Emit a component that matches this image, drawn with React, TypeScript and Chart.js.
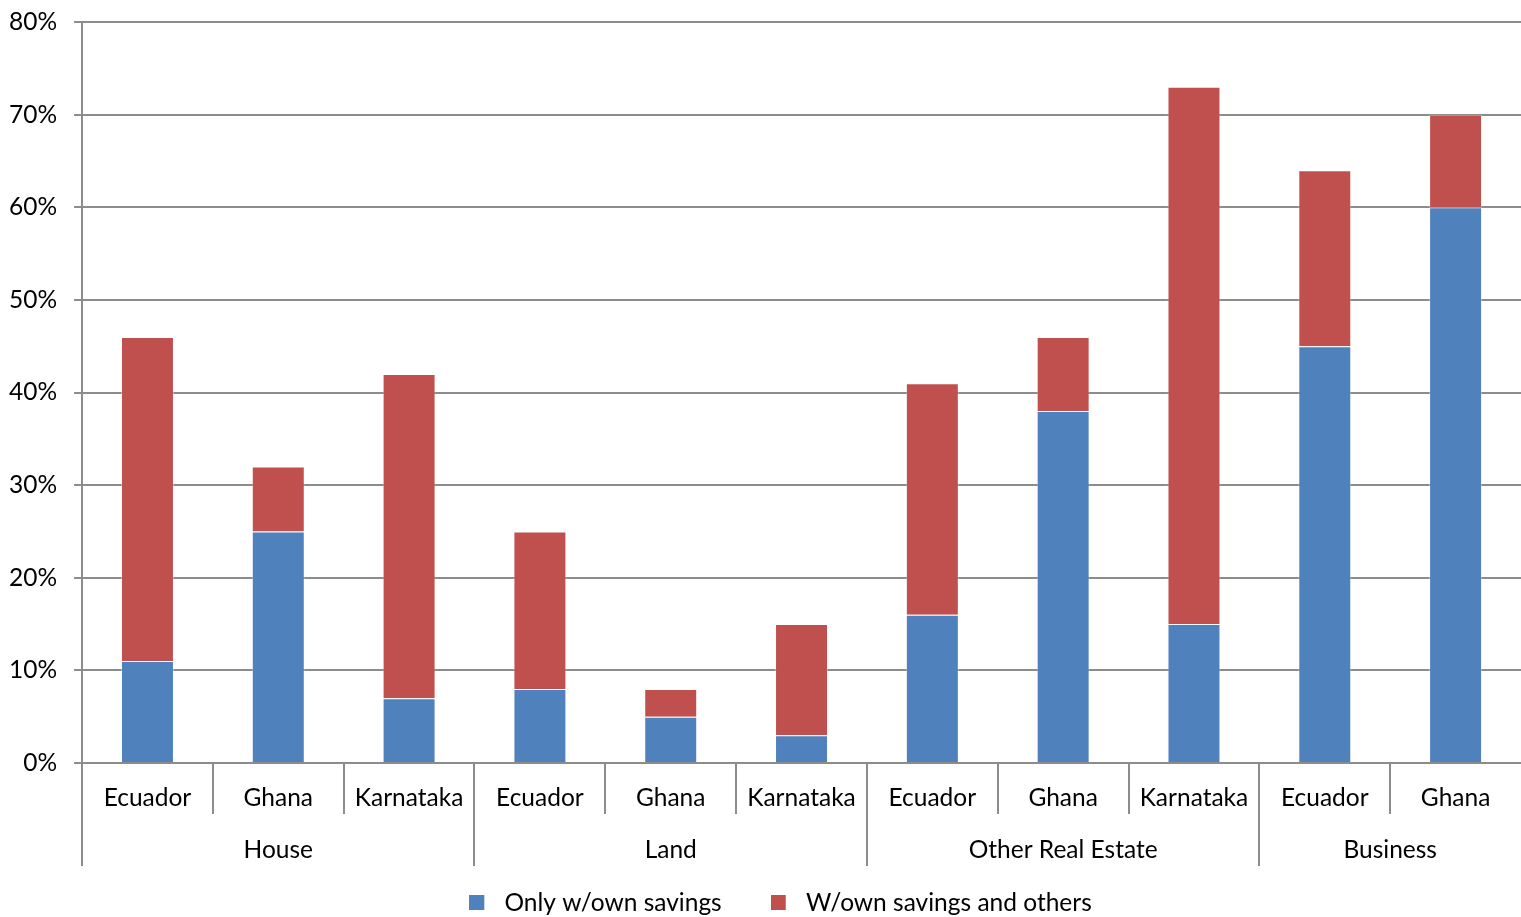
import React, { useEffect, useRef } from "react";
import { Chart, registerables } from "chart.js";

Chart.register(...registerables);

const categories = ["Ecuador", "Ghana", "Karnataka", "Ecuador", "Ghana", "Karnataka", "Ecuador", "Ghana", "Karnataka", "Ecuador", "Ghana"];
const groupNames = ["House", "Land", "Other Real Estate", "Business"];
const groupSizes = [3, 3, 3, 2];
const onlyOwnSavings = [11, 25, 7, 8, 5, 3, 16, 38, 15, 45, 60];
const ownSavingsAndOthers = [35, 7, 35, 17, 3, 12, 25, 8, 58, 19, 10];
const yTicks = [0, 10, 20, 30, 40, 50, 60, 70, 80];

const FONT = "Lato";
const FS = 24.5;
const GRID = "#8c8c8c";
const BLUE = "#4F81BD";
const RED = "#C0504D";

function legendSwatch(color: string) {
  const c = document.createElement("canvas");
  c.width = 23;
  c.height = 15;
  const g = c.getContext("2d")!;
  g.fillStyle = color;
  g.fillRect(0, 0, 15, 15);
  return c;
}

const groupAxisPlugin = {
  id: "groupAxis",
  afterLayout(chart: any) {
    if (chart.legend) chart.legend.left += 48;
  },
  afterDraw(chart: any) {
    const ctx = chart.ctx;
    const xs = chart.scales.x;
    const area = chart.chartArea;
    const step = xs.getPixelForValue(1) - xs.getPixelForValue(0);
    const bottom = area.bottom;
    const boundaries = new Set<number>();
    let acc = 0;
    boundaries.add(0);
    groupSizes.forEach((s) => {
      acc += s;
      boundaries.add(acc);
    });
    ctx.save();
    ctx.strokeStyle = GRID;
    ctx.lineWidth = 2;
    for (let i = 0; i < categories.length; i++) {
      const bx = Math.round(xs.getPixelForValue(i) - step / 2);
      const len = boundaries.has(i) ? 103 : 51;
      ctx.beginPath();
      ctx.moveTo(bx, bottom);
      ctx.lineTo(bx, bottom + len);
      ctx.stroke();
    }
    ctx.fillStyle = "#000";
    ctx.font = `${FS}px ${FONT}`;
    ctx.textAlign = "center";
    ctx.textBaseline = "middle";
    let start = 0;
    groupSizes.forEach((s, gi) => {
      const a = xs.getPixelForValue(start);
      const b = xs.getPixelForValue(start + s - 1);
      ctx.fillText(groupNames[gi], (a + b) / 2, bottom + 87);
      start += s;
    });
    ctx.restore();
  },
};

export default function App() {
  const ref = useRef<HTMLCanvasElement>(null);
  useEffect(() => {
    document.body.style.margin = "0";
    const swatches = [legendSwatch(BLUE), legendSwatch(RED)];
    const chart = new Chart(ref.current!, {
      type: "bar",
      data: {
        labels: categories,
        datasets: [
          {
            label: "Only w/own savings",
            data: onlyOwnSavings,
            backgroundColor: BLUE,
            borderColor: "rgba(255,255,255,0.35)",
            borderWidth: 1,
            barPercentage: 0.405,
            categoryPercentage: 1,
          },
          {
            label: "W/own savings and others",
            data: ownSavingsAndOthers,
            backgroundColor: RED,
            borderColor: "rgba(255,255,255,0.35)",
            borderWidth: 1,
            barPercentage: 0.405,
            categoryPercentage: 1,
          },
        ],
      },
      options: {
        animation: false,
        responsive: false,
        maintainAspectRatio: false,
        layout: { padding: { top: 22, left: -8, right: 0, bottom: -8 } },
        plugins: {
          tooltip: { enabled: false },
          legend: {
            position: "bottom",
            labels: {
              usePointStyle: true,
              pointStyleWidth: 23,
              boxWidth: 15,
              boxHeight: 15,
              padding: 49,
              color: "#000",
              font: { family: FONT, size: FS },
              generateLabels: (ch: any) => {
                const items = Chart.defaults.plugins.legend.labels.generateLabels(ch);
                return items.map((it: any, i: number) => ({ ...it, pointStyle: swatches[i], lineWidth: 0 }));
              },
            },
          },
        },
        scales: {
          x: {
            stacked: true,
            grid: { display: false, drawTicks: false },
            border: { display: true, color: GRID, width: 2 },
            ticks: { color: "#000", font: { family: FONT, size: FS }, padding: 20, maxRotation: 0, autoSkip: false },
            afterFit: (s: any) => {
              s.height = 78.5;
            },
          },
          y: {
            stacked: true,
            min: 0,
            max: 80,
            afterBuildTicks: (s: any) => {
              s.ticks = yTicks.map((v) => ({ value: v }));
            },
            afterFit: (s: any) => {
              s.paddingTop = 0;
            },
            grid: { color: GRID, lineWidth: 2, tickLength: 8 },
            border: { display: true, color: GRID, width: 2 },
            ticks: {
              color: "#000",
              font: { family: FONT, size: FS },
              padding: 17,
              callback: (v: any) => v + "%",
            },
          },
        },
      },
      plugins: [groupAxisPlugin],
    });
    return () => chart.destroy();
  }, []);
  return (
    <div style={{ width: 1521, height: 917, position: "relative", background: "#fff" }}>
      <canvas ref={ref} width={1521} height={917} style={{ display: "block" }} />
    </div>
  );
}
